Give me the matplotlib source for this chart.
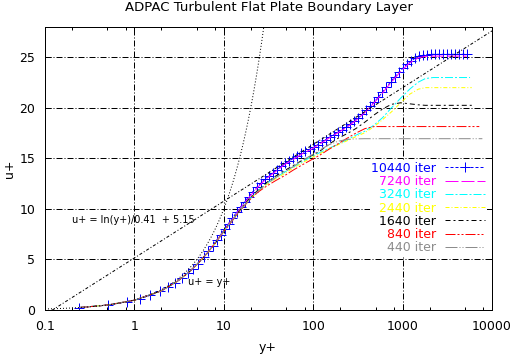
import matplotlib
matplotlib.use('Agg')
import matplotlib.pyplot as plt
import numpy as np
from matplotlib.ticker import FixedLocator, FixedFormatter, NullFormatter

# ---------------------------------------------------------------
# Values (y+ , u+)
# ---------------------------------------------------------------
yp_10440 = [0.24, 0.51, 0.82, 1.16, 1.51, 1.93, 2.35, 2.85, 3.38, 3.94,
            4.49, 5.10, 5.96, 6.70, 7.50, 8.30, 9.20, 10.2, 11.3, 12.5,
            13.9, 15.4, 17.1, 19.0, 21.1, 23.4, 26.0, 28.9, 32.1, 35.6,
            39.5, 43.8, 48.6, 54.0, 60.0, 66.5, 73.8, 82.0, 91.0, 101,
            112, 124, 138, 153, 170, 189, 210, 233, 258, 287,
            318, 353, 392, 435, 483, 536, 595, 660, 733, 814,
            903, 1000, 1110, 1230, 1370, 1520, 1690, 1880, 2090, 2320,
            2570, 2850, 3160, 3500, 3880, 4300, 4770, 5210]
up_10440 = [0.24, 0.50, 0.80, 1.12, 1.46, 1.85, 2.25, 2.70, 3.18, 3.65,
            4.10, 4.60, 5.25, 5.80, 6.35, 6.90, 7.45, 8.00, 8.55, 9.10,
            9.65, 10.2, 10.7, 11.2, 11.7, 12.15, 12.55, 12.95, 13.3, 13.6,
            13.9, 14.2, 14.5, 14.75, 15.0, 15.25, 15.5, 15.7, 15.9, 16.1,
            16.35, 16.6, 16.85, 17.1, 17.35, 17.6, 17.85, 18.1, 18.4, 18.7,
            19.0, 19.35, 19.75, 20.15, 20.6, 21.05, 21.55, 22.05, 22.55, 23.05,
            23.5, 23.9, 24.3, 24.6, 24.9, 25.1, 25.2, 25.27, 25.3, 25.3,
            25.3, 25.3, 25.3, 25.3, 25.3, 25.3, 25.3, 25.3]

# the other runs share the same stations, only the outer end differs
line_yp = [0.24, 0.5, 1.0, 2.0, 3.0, 4.0, 5.0, 6.5, 8.0, 10,
           12.5, 15.5, 19, 24, 30, 38, 48, 60, 75, 95,
           120, 150, 190, 240, 300, 380, 480, 600, 750, 950,
           1200, 1500, 1800, 2200, 3000, 4000]
end_yp = [5210, 5680, 5930, 6340, 7210, 7800]

up_7240 = [0.24, 0.49, 0.97, 1.9, 2.82, 3.68, 4.5, 5.62, 6.65, 7.85,
           9.0, 10.15, 11.1, 12.15, 13.0, 13.7, 14.4, 14.9, 15.45, 15.9,
           16.45, 17.0, 17.55, 18.1, 18.75, 19.55, 20.5, 21.5, 22.55, 23.6,
           24.45, 24.95, 25.1, 25.12, 25.12, 25.12, 25.12]
up_3240 = [0.24, 0.49, 0.97, 1.9, 2.82, 3.68, 4.5, 5.6, 6.6, 7.8,
           8.9, 10.0, 10.9, 11.8, 12.5, 13.1, 13.65, 14.15, 14.65, 15.15,
           15.6, 16.0, 16.4, 16.85, 17.3, 17.7, 18.3, 19.05, 20.0, 20.95,
           21.85, 22.55, 22.9, 23.0, 23.0, 23.0, 23.0]
up_2440 = [0.24, 0.49, 0.97, 1.9, 2.82, 3.68, 4.5, 5.6, 6.6, 7.8,
           8.9, 9.95, 10.85, 11.7, 12.4, 13.0, 13.5, 14.05, 14.55, 15.05,
           15.5, 15.95, 16.35, 16.75, 17.15, 17.55, 18.15, 18.85, 19.6, 20.5,
           21.35, 21.85, 22.0, 22.0, 22.0, 22.0, 22.0]
up_1640 = [0.24, 0.49, 0.97, 1.9, 2.82, 3.68, 4.5, 5.6, 6.6, 7.8,
           8.9, 10.0, 10.95, 11.85, 12.6, 13.25, 13.8, 14.3, 14.8, 15.25,
           15.75, 16.4, 17.0, 17.45, 17.95, 18.6, 19.3, 19.9, 20.35, 20.5,
           20.4, 20.3, 20.25, 20.25, 20.25, 20.25, 20.25]
up_840 = [0.24, 0.49, 0.97, 1.9, 2.82, 3.68, 4.5, 5.6, 6.6, 7.75,
          8.85, 9.9, 10.8, 11.65, 12.25, 12.8, 13.3, 13.85, 14.35, 14.85,
          15.35, 15.9, 16.45, 17.0, 17.5, 17.95, 18.15, 18.15, 18.15, 18.15,
          18.15, 18.15, 18.15, 18.15, 18.15, 18.15, 18.15]
up_440 = [0.24, 0.49, 0.97, 1.9, 2.82, 3.68, 4.5, 5.6, 6.6, 7.8,
          8.9, 9.95, 10.85, 11.75, 12.45, 13.1, 13.65, 14.2, 14.8, 15.3,
          15.85, 16.35, 16.7, 16.88, 16.93, 16.95, 16.95, 16.95, 16.95, 16.95,
          16.95, 16.95, 16.95, 16.95, 16.95, 16.95, 16.95]

run_labels = ['10440 iter', '7240 iter', '3240 iter', '2440 iter',
              '1640 iter', '840 iter', '440 iter']

# law of the wall constants, as printed on the chart
KAPPA = 0.41
B_CONST = 5.15

x_major = [0.1, 1, 10, 100, 1000, 10000]
x_major_labels = ['0.1', '1', '10', '100', '1000', '10000']
y_major = [0, 5, 10, 15, 20, 25]

# ---------------------------------------------------------------
W, H = 511, 355
fig = plt.figure(figsize=(W / 100, H / 100), dpi=100)
ax = fig.add_axes([45 / W, 45 / H, 447 / W, 283 / H])

LW = 0.72  # one pixel; dash patterns below are then in pixels

line_ups = [up_7240, up_3240, up_2440, up_1640, up_840, up_440]
colors = ['#0000ff', '#ff00ff', '#00ffff', '#ffff00', '#000000', '#ff0000', '#8c8c8c']
dashes = [(3, 2), (13, 3), (8, 2, 2, 2), (4, 2, 1, 2), (5, 3, 2, 3),
          (10, 2, 2, 2, 2, 2), (12, 2, 1, 2, 1, 2)]

handles = []
h, = ax.plot(yp_10440, up_10440, color=colors[0], lw=LW, linestyle=(0, dashes[0]),
             marker='+', markersize=6.5, markeredgewidth=LW)
handles.append(h)
for i, (ups, end) in enumerate(zip(line_ups, end_yp)):
    h, = ax.plot(line_yp + [end], ups, color=colors[i + 1], lw=LW,
                 linestyle=(0, dashes[i + 1]))
    handles.append(h)

# theory lines
yp_th = np.logspace(-1, 4, 500)
ax.plot(yp_th, yp_th, color='black', lw=LW, linestyle=(0, (1, 2)))
ax.plot(yp_th, np.log(yp_th) / KAPPA + B_CONST, color='black', lw=LW,
        linestyle=(0, (3, 2, 1, 2)))

ax.text(0.2, 8.93, 'u+ = ln(y+)/0.41  + 5.15', fontsize=7, va='center', ha='left')
ax.text(3.95, 2.8, 'u+ = y+', fontsize=7, va='center', ha='left')

ax.set_xscale('log')
ax.set_xlim(0.1, 10000)
ax.set_ylim(0, 28)

ax.xaxis.set_major_locator(FixedLocator(x_major))
ax.xaxis.set_major_formatter(FixedFormatter(x_major_labels))
minor = [m * 10.0 ** e for e in range(-1, 4) for m in (2, 5, 8)]
ax.xaxis.set_minor_locator(FixedLocator(minor))
ax.xaxis.set_minor_formatter(NullFormatter())
ax.yaxis.set_major_locator(FixedLocator(y_major))

ax.tick_params(which='both', direction='in', top=True, right=True, width=LW,
               labelsize=9, colors='black')
ax.tick_params(which='major', length=4.3)
ax.tick_params(which='minor', length=2.5)
ax.tick_params(axis='x', pad=7)
ax.tick_params(axis='y', pad=7)
for sp in ax.spines.values():
    sp.set_linewidth(LW)

ax.grid(True, which='major', color='black', lw=LW, linestyle=(0, (6, 2, 1, 2)))

leg = ax.legend(handles, run_labels, loc='upper right',
                bbox_to_anchor=(0.9877, 0.528), borderaxespad=0, borderpad=0.1,
                markerfirst=False, labelcolor='linecolor', handlelength=3.2,
                handletextpad=0.75, labelspacing=0.02, numpoints=1,
                frameon=True, fancybox=False, edgecolor='none',
                facecolor='white', framealpha=1, fontsize=9)

fig.text(268.5 / W, 1 - 7 / H, 'ADPAC Turbulent Flat Plate Boundary Layer',
         fontsize=9.5, ha='center', va='center')
fig.text(268 / W, 1 - 348 / H, 'y+', fontsize=9, ha='center', va='center')
fig.text(10 / W, 1 - 169 / H, 'u+', fontsize=9, ha='center', va='center', rotation=90)

fig.savefig('out.png', dpi=100)
